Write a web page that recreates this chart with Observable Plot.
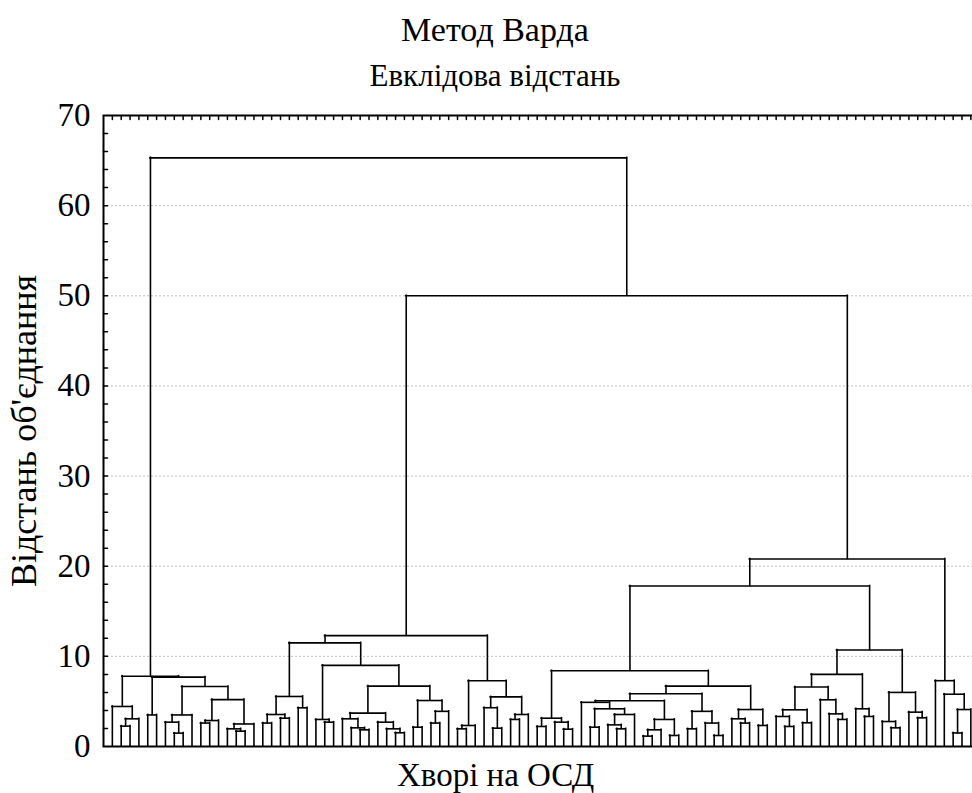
<!DOCTYPE html>
<html>
<head>
<meta charset="utf-8">
<script src="https://cdn.jsdelivr.net/npm/d3@7"></script>
<script src="https://cdn.jsdelivr.net/npm/@observablehq/plot@0.6"></script>
<style>
  html, body { margin: 0; padding: 0; overflow: hidden; background: #fff; width: 972px; height: 793px; }
  #head { position: relative; width: 990px; height: 80px; font-family: "Liberation Serif", "Times New Roman", serif; }
  #head div { position: absolute; left: 0; width: 990px; text-align: center; line-height: 40px; white-space: nowrap; }
  #chart svg { max-width: none !important; display: block; }
</style>
</head>
<body>
<div id="head">
  <div id="t1" style="top:10px; font-size:34px">Метод Варда</div>
  <div id="t2" style="top:56px; font-size:31px">Евклідова відстань</div>
</div>
<div id="chart"></div>
<script>
// ---- data: Ward linkage tree, nodes are [height, left, right], leaves are case numbers ----
const leftBranchA = [4.44, 1, [3.07, [2.26, 2, 3], 4]];
const leftBranchB = [3.5, 5, 6];
const leftBranchC = [3.5, [2.7, 7, [1.48, 8, 9]], 10];
const leftBranchD = [2.88, [2.6, 11, 12], 13];
const leftBranchE = [2.5, [1.96, 14, [1.7, 15, 16]], 17];
const leftBranch = [7.8, leftBranchA, [7.7, leftBranchB, [6.65, leftBranchC, [5.2, leftBranchD, leftBranchE]]]];

const midBranchA = [5.55, [3.55, [2.6, 18, 19], [3.14, 20, 21]], [4.29, 22, 23]];
const midBranchB = [3.0, 24, [2.7, 25, 26]];
const midBranchC = [3.7, [3.07, 27, [2.07, 28, [1.85, 29, 30]]], [2.7, 31, [1.96, 32, [1.52, 33, 34]]]];
const midBranchD = [5.1, [2.14, 35, 36], [3.9, [2.6, 37, 38], 39]];
const midBranchE = [7.3, [2.33, [1.96, 40, 41], 42], [5.5, [4.3, 43, [2.03, 44, 45]], [3.55, [3.0, 46, 47], 48]]];
const midBranch = [12.3, [11.5, midBranchA, [9.0, midBranchB, [6.7, midBranchC, midBranchD]]], midBranchE];

const rightBranchA = [3.14, [2.22, 49, 50], [2.7, 51, [1.92, 52, 53]]];
const rightBranchB = [4.9, 54, [4.18, [2.14, 55, 56], [3.55, [2.4, 57, [1.96, 58, 59]], 60]]];
const rightBranchC = [3.0, [1.85, [1.15, 61, 62], 63], [1.22, 64, 65]];
const rightBranchD = [3.9, [1.96, 66, 67], [2.6, 68, [1.22, 69, 70]]];
const rightBranchE = [4.1, [3.07, 71, [2.6, 72, 73]], [2.33, 74, 75]];
const rightBranchF = [4.07, [3.33, 76, [2.22, 77, 78]], [2.63, 79, 80]];
const rightBranchG = [5.18, 81, [3.62, 82, [3.0, 83, 84]]];
const rightBranchH = [4.18, 85, [3.33, 86, 87]];
const rightBranchI = [6.0, [2.77, 88, [2.07, 89, 90]], [3.81, 91, [3.18, 92, 93]]];
const rightBranchJ = [7.3, 94, [5.8, 95, [4.1, [1.5, 96, 97], 98]]];
const rightBranch = [20.8,
  [17.8,
    [8.4, rightBranchA, [6.7, [5.85, [5.07, rightBranchB, rightBranchC], rightBranchD], rightBranchE]],
    [10.7, [8.0, [6.6, rightBranchF, rightBranchG], rightBranchH], rightBranchI]],
  rightBranchJ];

const rootTree = [65.3, leftBranch, [50.0, midBranch, rightBranch]];

const leaves = d3.range(1, 99);              // 98 cases
const yTicks = [0, 10, 20, 30, 40, 50, 60, 70];
const gridValues = [10, 20, 30, 40, 50, 60];
const minorTicks = d3.range(2, 70, 2);
const yLabel = "Відстань об'єднання";
const xLabel = "Хворі на ОСД";

// ---- build segments from the tree ----
const horiz = [], verts = [];
function layout(node) {
  if (typeof node === "number") return {x: node, h: 0};
  const [h, a, b] = node;
  const L = layout(a), R = layout(b);
  horiz.push({x1: L.x, x2: R.x, y: h});
  verts.push({x: L.x, y1: L.h, y2: h});
  verts.push({x: R.x, y1: R.h, y2: h});
  return {x: (L.x + R.x) / 2, h};
}
layout(rootTree);

const tickShape = {draw(context, l) { context.moveTo(0, 0); context.lineTo(0, -l); }};

const plot = Plot.plot({
  width: 990,
  height: 713,
  marginTop: 35,
  marginBottom: 47,
  marginLeft: 103,
  marginRight: 10.8,
  style: {fontFamily: "Liberation Serif, Times New Roman, serif", fontSize: "33px", color: "black", background: "white", maxWidth: "none"},
  x: {domain: [0, 99], axis: null},
  y: {domain: [0, 70], axis: null},
  marks: [
    Plot.ruleY(gridValues, {stroke: "#c0c0c0", strokeWidth: 1, strokeDasharray: "2,2"}),
    Plot.ruleX(verts, {x: "x", y1: "y1", y2: "y2", stroke: "black", strokeWidth: 1.6, strokeLinecap: "square"}),
    Plot.ruleY(horiz, {y: "y", x1: "x1", x2: "x2", stroke: "black", strokeWidth: 1.6, strokeLinecap: "square"}),
    Plot.vector(minorTicks, {x: 0, y: d => d, rotate: 90, length: 4, anchor: "start", shape: tickShape, stroke: "black", strokeWidth: 1.5}),
    Plot.vector(leaves, {x: d => d, y: 70, rotate: 180, length: 4, anchor: "start", shape: tickShape, stroke: "black", strokeWidth: 1.5}),
    Plot.frame({stroke: "black", strokeWidth: 2}),
    Plot.axisY(yTicks, {anchor: "left", tickSize: 0, tickPadding: 13, fontSize: 33, label: null}),
    Plot.text([yLabel], {text: d => d, frameAnchor: "left", dx: -79, rotate: -90, textAnchor: "middle", lineAnchor: "middle", fontSize: 36}),
    Plot.text([xLabel], {text: d => d, frameAnchor: "bottom", dx: -46, dy: 29, textAnchor: "middle", lineAnchor: "middle", fontSize: 33})
  ]
});
document.getElementById("chart").appendChild(plot);
</script>
</body>
</html>
